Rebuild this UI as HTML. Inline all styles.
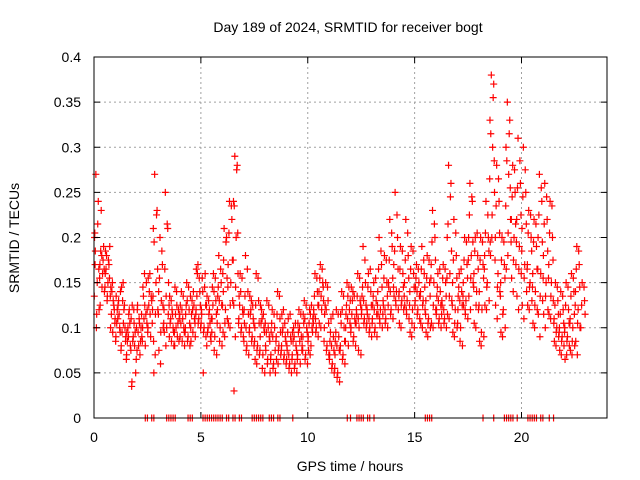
<!DOCTYPE html>
<html><head><meta charset="utf-8">
<style>
body{margin:0;background:#fff;}
svg{display:block;font-family:"Liberation Sans",sans-serif;}
</style></head>
<body>
<svg id="chart" width="640" height="480">
<rect x="0" y="0" width="640" height="480" fill="#fff"/>
<g id="grid"></g>
<g id="marks"></g>
<g id="zeros"></g>
<rect x="94" y="57" width="513" height="361" fill="none" stroke="#000" stroke-width="1"/>
<g id="ticks"></g>
<text x="348" y="32" font-size="14" text-anchor="middle">Day 189 of 2024, SRMTID for receiver bogt</text>
<text x="350" y="471" font-size="14" text-anchor="middle">GPS time / hours</text>
<text x="19" y="238" font-size="14" text-anchor="middle" transform="rotate(-90 19 238)">SRMTID / TECUs</text>
</svg>
<script>
const xTicks=[0,5,10,15,20];
const yTicks=[0,0.05,0.1,0.15,0.2,0.25,0.3,0.35,0.4];
const yTickLabels=["0","0.05","0.1","0.15","0.2","0.25","0.3","0.35","0.4"];
const binStarts=[0,0.25,0.5,0.75,1,1.25,1.5,1.75,2,2.25,2.5,2.75,3,3.25,3.5,3.75,4,4.25,4.5,4.75,5,5.25,5.5,5.75,6,6.25,6.5,6.75,7,7.25,7.5,7.75,8,8.25,8.5,8.75,9,9.25,9.5,9.75,10,10.25,10.5,10.75,11,11.25,11.5,11.75,12,12.25,12.5,12.75,13,13.25,13.5,13.75,14,14.25,14.5,14.75,15,15.25,15.5,15.75,16,16.25,16.5,16.75,17,17.25,17.5,17.75,18,18.25,18.5,18.75,19,19.25,19.5,19.75,20,20.25,20.5,20.75,21,21.25,21.5,21.75,22,22.25,22.5,22.75];
const binValues=[
[0.27,0.24,0.2,0.15,0.12,0.1,0.17],[0.23,0.19,0.17,0.16,0.14,0.18],[0.18,0.17,0.16,0.15,0.19,0.13],[0.14,0.12,0.1,0.13,0.11,0.15],
[0.12,0.1,0.09,0.13,0.14,0.11],[0.13,0.1,0.08,0.12,0.09,0.15],[0.1,0.08,0.07,0.12,0.11,0.09],[0.09,0.05,0.04,0.08,0.1,0.12],
[0.08,0.1,0.12,0.07,0.09,0.11],[0.11,0.15,0.1,0.08,0.12,0.16],[0.14,0.13,0.1,0.09,0.12,0.16],[0.27,0.23,0.21,0.15,0.12,0.07,0.05],
[0.2,0.17,0.14,0.13,0.1,0.06],[0.25,0.21,0.12,0.1,0.15,0.08],[0.11,0.1,0.09,0.12,0.08,0.13],[0.1,0.12,0.08,0.09,0.11,0.14],
[0.14,0.1,0.09,0.11,0.08,0.12],[0.15,0.12,0.1,0.09,0.08,0.13],[0.13,0.11,0.1,0.14,0.09,0.12],[0.16,0.14,0.12,0.11,0.1,0.17],
[0.14,0.16,0.12,0.1,0.09,0.05],[0.1,0.09,0.08,0.12,0.11,0.13],[0.16,0.13,0.11,0.09,0.07,0.14],[0.18,0.15,0.12,0.1,0.08,0.13],
[0.21,0.2,0.16,0.12,0.11,0.09,0.14],[0.24,0.22,0.17,0.15,0.13,0.1],[0.29,0.28,0.24,0.2,0.16,0.09,0.03],[0.16,0.12,0.11,0.1,0.09,0.14],
[0.18,0.14,0.12,0.08,0.07,0.1],[0.12,0.11,0.1,0.09,0.08,0.13],[0.16,0.13,0.1,0.08,0.07,0.06],[0.12,0.1,0.09,0.07,0.05,0.11],
[0.13,0.09,0.08,0.1,0.05,0.06],[0.12,0.1,0.07,0.06,0.05,0.09],[0.14,0.11,0.09,0.08,0.07,0.06],[0.1,0.09,0.08,0.07,0.06,0.12],
[0.11,0.09,0.08,0.06,0.05,0.07],[0.1,0.08,0.07,0.06,0.05,0.09],[0.12,0.09,0.07,0.06,0.08,0.1],[0.13,0.1,0.09,0.07,0.06,0.11],
[0.12,0.1,0.09,0.08,0.11,0.07],[0.16,0.14,0.12,0.1,0.09,0.11],[0.17,0.15,0.14,0.12,0.13,0.1],[0.15,0.13,0.1,0.08,0.07,0.12],
[0.11,0.09,0.07,0.06,0.05,0.08],[0.12,0.09,0.07,0.05,0.04,0.08],[0.14,0.1,0.08,0.07,0.06,0.12],[0.15,0.12,0.1,0.08,0.13,0.11],
[0.13,0.11,0.1,0.09,0.08,0.14],[0.16,0.13,0.12,0.1,0.07,0.11],[0.19,0.15,0.12,0.11,0.1,0.13],[0.16,0.14,0.12,0.1,0.09,0.11],
[0.15,0.13,0.11,0.1,0.09,0.12],[0.2,0.17,0.14,0.12,0.1,0.11],[0.18,0.15,0.13,0.11,0.1,0.12],[0.22,0.19,0.15,0.12,0.11,0.14],
[0.25,0.2,0.17,0.14,0.12,0.13],[0.19,0.16,0.14,0.13,0.12,0.1],[0.22,0.18,0.15,0.13,0.11,0.12],[0.19,0.16,0.14,0.12,0.1,0.09],
[0.17,0.15,0.13,0.12,0.11,0.14],[0.19,0.16,0.14,0.13,0.12,0.1],[0.18,0.15,0.13,0.11,0.1,0.09],[0.23,0.2,0.17,0.15,0.12,0.1],
[0.16,0.14,0.12,0.11,0.1,0.13],[0.17,0.15,0.13,0.11,0.1,0.12],[0.28,0.26,0.2,0.16,0.13,0.11],[0.22,0.18,0.15,0.12,0.1,0.09],
[0.16,0.14,0.12,0.1,0.08,0.13],[0.2,0.17,0.15,0.13,0.11,0.12],[0.26,0.24,0.2,0.18,0.15,0.12],[0.2,0.18,0.16,0.14,0.12,0.1],
[0.2,0.17,0.14,0.12,0.09,0.08],[0.24,0.2,0.18,0.15,0.13,0.12],[0.38,0.37,0.33,0.3,0.25,0.2,0.18],[0.28,0.24,0.2,0.16,0.14,0.11],
[0.2,0.17,0.15,0.12,0.1,0.09],[0.35,0.33,0.3,0.27,0.22,0.18],[0.28,0.25,0.22,0.2,0.17,0.14],[0.31,0.26,0.22,0.19,0.16,0.12],
[0.3,0.25,0.21,0.17,0.14,0.11],[0.23,0.2,0.17,0.15,0.13,0.12],[0.22,0.19,0.16,0.14,0.12,0.1],[0.27,0.24,0.2,0.16,0.13,0.09],
[0.26,0.22,0.18,0.15,0.12,0.1],[0.24,0.2,0.17,0.15,0.13,0.11],[0.15,0.13,0.11,0.1,0.09,0.08],[0.14,0.12,0.1,0.09,0.08,0.07],
[0.15,0.12,0.1,0.09,0.08,0.07],[0.16,0.14,0.11,0.1,0.08,0.07],[0.19,0.17,0.14,0.12,0.1,0.07],[0.15,0.13,0.1]
];
const binValues2=[
[0.215,0.185,0.165,0.135,0.115,0.205],[0.175,0.185,0.165,0.155,0.145,0.125],[0.175,0.165,0.155,0.145,0.135,0.185],[0.125,0.115,0.105,0.135,0.095,0.145],
[0.115,0.105,0.095,0.085,0.125,0.135],[0.125,0.095,0.085,0.075,0.105,0.145],[0.105,0.085,0.075,0.065,0.115,0.095],[0.095,0.085,0.065,0.035,0.105,0.125],
[0.085,0.095,0.115,0.075,0.105,0.125],[0.115,0.135,0.105,0.085,0.125,0.145],[0.135,0.125,0.105,0.095,0.115,0.155],[0.225,0.195,0.165,0.135,0.115,0.085],
[0.185,0.155,0.125,0.115,0.095,0.075],[0.215,0.165,0.115,0.105,0.135,0.095],[0.115,0.105,0.095,0.125,0.085,0.135],[0.105,0.115,0.085,0.095,0.125,0.145],
[0.135,0.105,0.095,0.115,0.085,0.125],[0.145,0.125,0.105,0.095,0.085,0.115],[0.125,0.115,0.105,0.135,0.095,0.085],[0.155,0.135,0.125,0.115,0.105,0.165],
[0.145,0.155,0.125,0.105,0.095,0.115],[0.105,0.095,0.085,0.125,0.115,0.135],[0.155,0.125,0.115,0.095,0.075,0.145],[0.165,0.145,0.125,0.105,0.085,0.135],
[0.195,0.175,0.155,0.125,0.105,0.095],[0.235,0.205,0.175,0.145,0.125,0.105],[0.275,0.235,0.205,0.175,0.145,0.125],[0.155,0.125,0.115,0.105,0.095,0.135],
[0.165,0.135,0.115,0.085,0.075,0.105],[0.125,0.115,0.105,0.095,0.085,0.135],[0.155,0.125,0.105,0.085,0.075,0.065],[0.115,0.105,0.095,0.075,0.055,0.125],
[0.125,0.095,0.085,0.105,0.065,0.075],[0.115,0.105,0.075,0.065,0.055,0.095],[0.135,0.115,0.095,0.085,0.075,0.065],[0.105,0.095,0.085,0.075,0.065,0.115],
[0.115,0.095,0.085,0.065,0.055,0.075],[0.105,0.085,0.075,0.065,0.055,0.095],[0.115,0.095,0.075,0.065,0.085,0.105],[0.125,0.105,0.095,0.075,0.065,0.115],
[0.125,0.105,0.095,0.085,0.115,0.075],[0.155,0.135,0.125,0.105,0.095,0.115],[0.165,0.155,0.145,0.125,0.135,0.105],[0.145,0.125,0.105,0.085,0.075,0.115],
[0.115,0.095,0.075,0.065,0.055,0.085],[0.115,0.095,0.075,0.055,0.045,0.085],[0.135,0.105,0.085,0.075,0.065,0.115],[0.145,0.125,0.105,0.085,0.135,0.115],
[0.135,0.115,0.105,0.095,0.085,0.145],[0.155,0.135,0.125,0.105,0.075,0.115],[0.175,0.145,0.125,0.115,0.105,0.135],[0.165,0.145,0.125,0.105,0.095,0.115],
[0.155,0.135,0.115,0.105,0.095,0.125],[0.185,0.165,0.145,0.125,0.105,0.115],[0.175,0.155,0.135,0.115,0.105,0.125],[0.205,0.175,0.155,0.125,0.115,0.145],
[0.225,0.185,0.165,0.145,0.125,0.135],[0.185,0.165,0.145,0.135,0.125,0.105],[0.205,0.175,0.155,0.135,0.115,0.125],[0.185,0.165,0.145,0.125,0.105,0.095],
[0.165,0.155,0.135,0.125,0.115,0.145],[0.175,0.165,0.145,0.135,0.125,0.105],[0.175,0.155,0.135,0.115,0.105,0.095],[0.215,0.195,0.175,0.155,0.125,0.105],
[0.165,0.145,0.125,0.115,0.105,0.135],[0.165,0.155,0.135,0.115,0.105,0.125],[0.245,0.215,0.185,0.155,0.135,0.115],[0.205,0.175,0.155,0.125,0.105,0.095],
[0.165,0.145,0.125,0.105,0.085,0.135],[0.195,0.175,0.155,0.135,0.115,0.125],[0.245,0.225,0.195,0.175,0.155,0.135],[0.205,0.185,0.165,0.145,0.125,0.105],
[0.195,0.175,0.155,0.125,0.095,0.085],[0.225,0.205,0.185,0.165,0.145,0.125],[0.355,0.315,0.285,0.265,0.225,0.195],[0.265,0.235,0.205,0.175,0.145,0.125],
[0.195,0.175,0.155,0.135,0.115,0.095],[0.315,0.285,0.255,0.235,0.205,0.165],[0.275,0.245,0.215,0.195,0.175,0.155],[0.285,0.255,0.225,0.195,0.165,0.135],
[0.275,0.245,0.215,0.185,0.155,0.125],[0.225,0.205,0.185,0.165,0.145,0.125],[0.215,0.195,0.165,0.145,0.125,0.105],[0.255,0.225,0.195,0.165,0.135,0.115],
[0.245,0.215,0.185,0.155,0.135,0.115],[0.235,0.205,0.175,0.155,0.135,0.115],[0.145,0.125,0.115,0.105,0.095,0.085],[0.135,0.115,0.105,0.095,0.085,0.075],
[0.145,0.125,0.105,0.095,0.085,0.065],[0.155,0.135,0.115,0.105,0.085,0.075],[0.185,0.165,0.145,0.125,0.105,0.085],[0.145,0.125,0.115]
];
const zeroHours=[2.4,2.5,2.7,2.8,3.4,3.5,3.6,3.7,3.8,4.4,4.5,4.6,5.1,5.2,5.3,5.4,5.5,5.6,5.7,5.8,5.9,6.0,6.2,6.3,6.5,6.6,6.8,6.9,7.4,7.5,7.6,7.7,7.8,7.9,8.2,8.3,8.4,8.6,8.7,9.3,11.85,12.0,12.3,12.4,12.5,12.6,12.8,12.9,13.1,15.5,15.6,15.7,15.8,18.2,18.7,19.2,19.3,19.4,19.5,19.6,19.8,20.3,20.4,20.5,20.6,20.7,20.9,21.0,21.3,21.5];

const X=h=>94+h*(513/24);
const Y=v=>418-v*(361/0.4);
const jitterA=[0.35,0.8,0.1,0.6,0.95,0.45,0.2];
const jitterB=[0.7,0.25,0.9,0.05,0.5,0.15,0.65];
const NS="http://www.w3.org/2000/svg";
function mk(tag,attrs,parent){const e=document.createElementNS(NS,tag);for(const k in attrs)e.setAttribute(k,attrs[k]);parent.appendChild(e);return e;}
const grid=document.getElementById('grid'),ticks=document.getElementById('ticks'),marks=document.getElementById('marks'),zeros=document.getElementById('zeros');
xTicks.forEach(t=>{
  const x=X(t);
  if(t>0){const g=mk('line',{x1:x,x2:x,y1:57,y2:418,stroke:'#a0a0a0','stroke-dasharray':'2,3'},grid);
  
  }
  mk('line',{x1:x,x2:x,y1:418,y2:412,stroke:'#000'},ticks);
  mk('line',{x1:x,x2:x,y1:57,y2:63,stroke:'#000'},ticks);
  const tl=mk('text',{x:x,y:442,'font-size':14,'text-anchor':'middle'},ticks);
  tl.textContent=t;
  
  
});
yTicks.forEach((t,i)=>{
  const y=Y(t);
  if(t>0&&t<0.4){const g=mk('line',{x1:94,x2:607,y1:y,y2:y,stroke:'#a0a0a0','stroke-dasharray':'2,3'},grid);
  
  }
  mk('line',{x1:94,x2:100,y1:y,y2:y,stroke:'#000'},ticks);
  mk('line',{x1:607,x2:601,y1:y,y2:y,stroke:'#000'},ticks);
  const tl=mk('text',{x:81,y:y+5,'font-size':14,'text-anchor':'end'},ticks);
  tl.textContent=yTickLabels[i];
  
  
});
let d='';
function addSeries(arr,jit){
  arr.forEach((vals,b)=>{
    vals.forEach((v,j)=>{
      const h=binStarts[b]+0.25*jit[j%jit.length];
      const x=X(h),y=Y(v);
      d+=`M${x-3.5},${y}h7M${x},${y-3.5}v7`;
    });
  });
}
addSeries(binValues,jitterA);
addSeries(binValues2,jitterB);
const p=mk('path',{d:d,stroke:'#ff0000','stroke-width':1.2,fill:'none'},marks);


let dz='';
zeroHours.forEach(h=>{const x=X(h);dz+=`M${x},${Y(0)-3.5}v7`;});
const pz=mk('path',{d:dz,stroke:'#ff0000','stroke-width':1.2,fill:'none'},zeros);


</script>
</body></html>
